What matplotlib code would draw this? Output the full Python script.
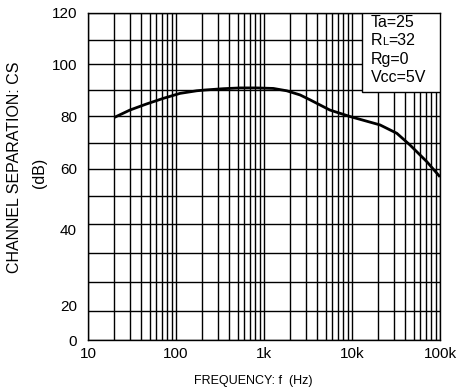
import numpy as np
import matplotlib
matplotlib.use("Agg")
import matplotlib.pyplot as plt
from matplotlib.patches import Rectangle
from matplotlib.offsetbox import TextArea, HPacker, VPacker, AnchoredOffsetbox

plt.rcParams['font.family'] = ['Liberation Sans', 'DejaVu Sans']

# channel separation curve (Hz, dB)
freq_hz = [20, 30, 46, 72, 111, 172, 213, 345, 534, 826, 1276, 1811,
           2570, 3300, 5600, 9500, 20800, 32300, 45700, 70900, 100000]
cs_db = [79.5, 82.3, 84.6, 86.8, 88.7, 89.7, 90.0, 90.5, 90.8, 90.8, 90.6, 89.7,
         88.1, 86.3, 82.3, 79.8, 76.7, 73.6, 69.2, 62.8, 57.1]

x_ticks = [10, 100, 1000, 10000, 100000]
x_labels = ['10', '100', '1k', '10k', '100k']
y_labels = ['0', '20', '40', '60', '80', '100', '120']
y_label_at = [0, 12, 38, 60, 80, 100, 120]   # where the labels sit in the original sheet

cond_rows = [[('Ta=25', 11.5)], [('R', 11.5), ('L', 8), ('=32', 11.5)],
             [('Rg=0', 11.5)], [('Vcc=5V', 11.5)]]

# the printed grid is slightly uneven: dB gridline -> height in px above the bottom
grid_db = np.arange(0, 130, 10)
grid_h = np.array([0, 29, 58, 87, 116, 144, 171, 197, 224, 250, 276, 300, 327], float)


def fwd(v):
    v = np.asarray(v, float)
    out = np.interp(v, grid_db, grid_h)
    out = np.where(v < 0, v * 2.9, out)
    return np.where(v > 120, 327 + (v - 120) * 2.7, out)


def inv(h):
    h = np.asarray(h, float)
    out = np.interp(h, grid_h, grid_db)
    out = np.where(h < 0, h / 2.9, out)
    return np.where(h > 327, 120 + (h - 327) / 2.7, out)


fig = plt.figure(figsize=(4.57, 3.91), dpi=100)
ax = fig.add_axes([88 / 457, 51 / 391, 352 / 457, 327 / 391])

ax.set_xscale('log')
ax.set_yscale('function', functions=(fwd, inv))
ax.set_xlim(10, 100000)
ax.set_ylim(0, 120)

ax.plot(freq_hz, cs_db, color='black', lw=2.0, solid_capstyle='butt', zorder=3)

# grid
minor_f = [m * d for d in x_ticks[:-1] for m in range(2, 10)]
ax.set_xticks(x_ticks)
ax.set_xticklabels(x_labels)
ax.set_xticks([], minor=True)
ax.set_yticks(y_label_at)
ax.set_yticklabels(y_labels)
ax.set_yticks([], minor=True)
for f in x_ticks + minor_f:
    ax.axvline(f, color='black', lw=1.0, zorder=1)
for g in grid_db:
    ax.axhline(g, color='black', lw=1.0, zorder=1)

ax.tick_params(which='both', length=0, labelsize=11, colors='black')
ax.tick_params(axis='x', pad=5)
ax.tick_params(axis='y', pad=8)
for s in ax.spines.values():
    s.set_linewidth(1.0)

# axis titles
fig.text(15 / 457, 1 - 167 / 391, 'CHANNEL SEPARATION: CS', rotation=90,
         ha='center', va='center', fontsize=11.5)
fig.text(39 / 457, 1 - 173 / 391, '(dB)', rotation=90,
         ha='center', va='center', fontsize=11.5)
fig.text(253 / 457, 1 - 381 / 391, 'FREQUENCY: f  (Hz)',
         ha='center', va='center', fontsize=9)

# conditions box
ax.add_patch(Rectangle(((362 - 88) / 352, (340 - 92) / 327), (440 - 362) / 352, 79 / 327,
                       transform=ax.transAxes, facecolor='white', edgecolor='black',
                       lw=1.0, zorder=5))
rows = []
for row in cond_rows:
    parts = [TextArea(t, textprops=dict(fontsize=sz, color='black')) for t, sz in row]
    rows.append(HPacker(children=parts, align='baseline', pad=0, sep=0))
box = VPacker(children=rows, align='left', pad=0, sep=2.5)
anch = AnchoredOffsetbox(loc='upper left', child=box, pad=0, borderpad=0, frameon=False,
                         bbox_to_anchor=((371 - 88) / 352, (340 - 15) / 327),
                         bbox_transform=ax.transAxes)
anch.zorder = 6
ax.add_artist(anch)

fig.savefig('out.png', dpi=100)
